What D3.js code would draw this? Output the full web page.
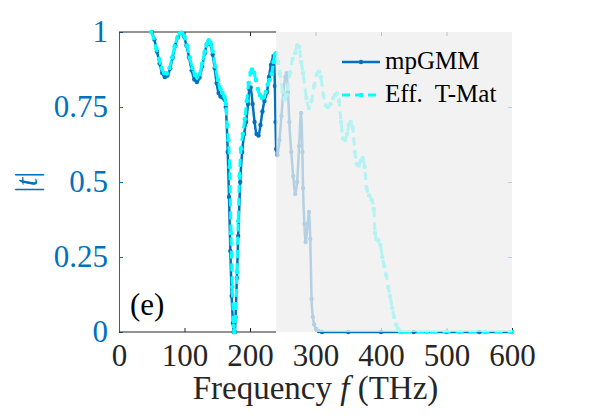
<!DOCTYPE html>
<html>
<head>
<meta charset="utf-8">
<script src="https://cdn.jsdelivr.net/npm/d3@7"></script>
<style>
  body { margin: 0; background: #fff; }
</style>
</head>
<body>
<div id="chart"></div>
<script>
// tick values and labels
const xTicks = [0, 100, 200, 300, 400, 500, 600];
const yTicks = [0, 0.25, 0.5, 0.75, 1];
const yTickLabels = ["0", "0.25", "0.5", "0.75", "1"];

// mpGMM, frequency (THz) and |t|
const fGMM = [50, 54, 58, 62, 66, 70, 74, 78, 82, 86, 90, 95, 99, 103, 107, 111, 115, 119, 123, 127,
  131, 134, 137, 140, 143, 146, 149, 152, 155, 158, 161, 163, 166, 168, 170, 172, 174, 175, 177, 178,
  180, 182, 185, 188, 191, 194, 197, 199, 201, 204, 207, 210, 213, 216, 219, 222, 226, 229, 232, 236,
  238, 239, 240, 242, 245, 248, 251, 254, 256, 258, 260, 263, 266, 269, 272, 275, 278, 280, 281, 283,
  285, 288, 290, 292, 294, 296, 298, 301, 305, 310, 350, 400, 450, 500, 550, 600];
const tGMM = [1.0, 0.975, 0.935, 0.895, 0.863, 0.85, 0.855, 0.878, 0.915, 0.955, 0.983, 0.997, 0.985, 0.955, 0.915, 0.872, 0.842, 0.833, 0.848, 0.885,
  0.93, 0.958, 0.97, 0.958, 0.925, 0.88, 0.83, 0.797, 0.785, 0.782, 0.775, 0.75, 0.6, 0.45, 0.27, 0.12, 0.03, 0.0, 0.0, 0.05,
  0.18, 0.32, 0.5, 0.6, 0.66, 0.7, 0.76, 0.81, 0.815, 0.76, 0.7, 0.66, 0.655, 0.69, 0.735, 0.77, 0.8, 0.85, 0.89, 0.92,
  0.82, 0.7, 0.61, 0.59, 0.64, 0.72, 0.8, 0.85, 0.863, 0.8, 0.7, 0.6, 0.52, 0.46, 0.5, 0.62, 0.73, 0.6, 0.48, 0.36,
  0.3, 0.36, 0.4, 0.31, 0.11, 0.05, 0.025, 0.01, 0.003, 0, 0, 0, 0, 0, 0, 0];

// Eff. T-Mat, frequency (THz) and |t|
const fTMat = [49, 53, 57, 61, 65, 69, 73, 77, 81, 85, 89, 93, 96, 100, 104, 108, 112, 116, 119, 123,
  127, 131, 134, 137, 140, 143, 147, 151, 155, 158, 161, 163, 165, 167, 169, 171, 173, 175, 176, 178,
  180, 182, 184, 186, 189, 192, 195, 198, 201, 203, 206, 209, 212, 215, 218, 221, 224, 227, 230, 233,
  236, 238, 240, 243, 246, 250, 253, 256, 261, 265, 269, 272, 275, 278, 281, 286, 290, 294, 298, 302,
  305, 308, 312, 316, 319, 323, 327, 330, 333, 336, 339, 342, 345, 348, 351, 354, 357, 360, 363, 366,
  369, 372, 375, 378, 382, 386, 389, 391, 393, 396, 399, 402, 405, 408, 411, 414, 417, 420, 423, 426,
  429, 432, 470, 520, 560, 600];
const tTMat = [1.0, 0.98, 0.945, 0.91, 0.88, 0.863, 0.862, 0.88, 0.915, 0.952, 0.98, 0.995, 0.997, 0.985, 0.955, 0.915, 0.88, 0.857, 0.85, 0.86,
  0.895, 0.935, 0.96, 0.972, 0.963, 0.935, 0.885, 0.84, 0.81, 0.797, 0.785, 0.76, 0.69, 0.64, 0.55, 0.33, 0.15, 0.02, 0.0, 0.05,
  0.2, 0.37, 0.52, 0.61, 0.66, 0.71, 0.77, 0.83, 0.865, 0.875, 0.865, 0.84, 0.81, 0.79, 0.78, 0.783, 0.8, 0.825, 0.84, 0.86,
  0.9, 0.925, 0.93, 0.9, 0.86, 0.8, 0.775, 0.79, 0.863, 0.91, 0.93, 0.955, 0.95, 0.9, 0.863, 0.78, 0.747, 0.77, 0.82, 0.86,
  0.867, 0.85, 0.79, 0.755, 0.75, 0.76, 0.78, 0.79, 0.795, 0.77, 0.7, 0.645, 0.64, 0.66, 0.69, 0.70, 0.68, 0.6, 0.56, 0.555,
  0.57, 0.58, 0.55, 0.48, 0.455, 0.44, 0.41, 0.33, 0.31, 0.305, 0.29, 0.25, 0.22, 0.19, 0.15, 0.12, 0.08, 0.05, 0.025, 0.01,
  0.002, 0, 0, 0, 0, 0];

const seriesNames = ["mpGMM", "Eff.  T-Mat"];
const shadeFrom = 240, shadeTo = 600;

// dimensions
let margin = {top: 32, right: 94, bottom: 88, left: 119},
    width = 606 - margin.left - margin.right,
    height = 420 - margin.top - margin.bottom;

const blue = "#0072BD", cyan = "#00FFFF", ink = "#262626";
const serif = "'Liberation Serif', 'Times New Roman', serif";

let svg = d3.select("#chart")
    .append("svg")
    .attr("width", 606)
    .attr("height", 420)
    .attr("font-family", serif);

let g = svg.append("g")
    .attr("transform", "translate(" + margin.left + "," + margin.top + ")");

let x = d3.scaleLinear().domain([0, 600]).range([0, width]);
let y = d3.scaleLinear().domain([0, 1]).range([height, 0]);

// bottom axis, ticks pointing inward
let xAxis = g.append("g")
    .attr("transform", "translate(0," + height + ")")
    .call(d3.axisBottom(x).tickValues(xTicks).tickFormat(d3.format("d"))
        .tickSizeInner(-4).tickSizeOuter(0).tickPadding(12))
    .attr("font-family", serif);
xAxis.select(".domain").remove();
xAxis.selectAll("line").attr("stroke", ink);
xAxis.selectAll("text").attr("fill", ink).style("font-family", serif).style("font-size", "31px");

// top ticks, no labels
let topAxis = g.append("g")
    .call(d3.axisTop(x).tickValues(xTicks.slice(1, -1)).tickFormat("")
        .tickSizeInner(-4).tickSizeOuter(0));
topAxis.select(".domain").remove();
topAxis.selectAll("line").attr("stroke", ink);

// left axis in blue
let yAxis = g.append("g")
    .call(d3.axisLeft(y).tickValues(yTicks).tickFormat(function(d, i) { return yTickLabels[i]; })
        .tickSizeInner(-4).tickSizeOuter(0).tickPadding(11))
    .attr("font-family", serif);
yAxis.select(".domain").attr("stroke", blue);
yAxis.selectAll("line").attr("stroke", blue);
yAxis.selectAll("text").attr("fill", blue).style("font-family", serif).style("font-size", "31px");

// right ticks
let rAxis = g.append("g")
    .attr("transform", "translate(" + width + ",0)")
    .call(d3.axisRight(y).tickValues(yTicks.slice(1, -1)).tickFormat("")
        .tickSizeInner(-4).tickSizeOuter(0));
rAxis.select(".domain").remove();
rAxis.selectAll("line").attr("stroke", blue);

// box edges left of the shaded band
g.append("line").attr("x1", x(0)).attr("x2", x(shadeFrom))
    .attr("y1", y(1)).attr("y2", y(1)).attr("stroke", ink);
g.append("line").attr("x1", x(0)).attr("x2", x(shadeFrom))
    .attr("y1", y(0)).attr("y2", y(0)).attr("stroke", ink);

const gmmData = fGMM.map(function(f, i) { return {f: f, t: tGMM[i]}; });
const tmatData = fTMat.map(function(f, i) { return {f: f, t: tTMat[i]}; });

const line = d3.line()
    .curve(d3.curveMonotoneX)
    .x(function(d) { return x(d.f); })
    .y(function(d) { return y(d.t); });

g.append("path")
    .datum(gmmData)
    .attr("fill", "none")
    .attr("stroke", blue)
    .attr("stroke-width", 2.5)
    .attr("d", line);
g.append("g").selectAll("circle")
    .data(gmmData)
    .join("circle")
    .attr("cx", function(d) { return x(d.f); })
    .attr("cy", function(d) { return y(d.t); })
    .attr("r", 2.2)
    .attr("fill", blue);

g.append("path")
    .datum(tmatData)
    .attr("fill", "none")
    .attr("stroke", cyan)
    .attr("stroke-width", 3)
    .attr("stroke-dasharray", "8,5")
    .attr("d", line);
g.append("g").selectAll("circle")
    .data(tmatData)
    .join("circle")
    .attr("cx", function(d) { return x(d.f); })
    .attr("cy", function(d) { return y(d.t); })
    .attr("r", 2.3)
    .attr("fill", cyan);

// translucent shading over the high-frequency part
g.append("rect")
    .attr("x", x(shadeFrom))
    .attr("y", y(1))
    .attr("width", x(shadeTo) - x(shadeFrom))
    .attr("height", y(0) - y(1))
    .attr("fill", "#eeeeee")
    .attr("opacity", 0.76);

// legend
let legend = svg.append("g");
const legendY = [62, 95];
const legendColor = [blue, cyan];
seriesNames.forEach(function(name, i) {
    legend.append("line")
        .attr("x1", 342).attr("x2", 380)
        .attr("y1", legendY[i]).attr("y2", legendY[i])
        .attr("stroke", legendColor[i])
        .attr("stroke-width", i === 0 ? 2.5 : 3)
        .attr("stroke-dasharray", i === 0 ? null : "8,5");
    legend.append("circle")
        .attr("cx", 361).attr("cy", legendY[i])
        .attr("r", 2.2).attr("fill", legendColor[i]);
    legend.append("text")
        .attr("x", 385).attr("y", legendY[i] + 7)
        .attr("fill", "#000")
        .style("font-family", serif)
        .style("font-size", "25px")
        .style("white-space", "pre")
        .text(name);
});

// panel label
svg.append("text")
    .attr("x", 130).attr("y", 315)
    .attr("fill", "#000")
    .style("font-family", serif)
    .style("font-size", "31px")
    .text("(e)");

// x label
let xl = svg.append("text")
    .attr("x", margin.left + width / 2).attr("y", 399)
    .attr("text-anchor", "middle")
    .attr("fill", ink)
    .style("font-family", serif)
    .style("font-size", "33px")
    .style("white-space", "pre");
xl.append("tspan").text("Frequency ");
xl.append("tspan").style("font-style", "italic").text("f");
xl.append("tspan").text(" (THz)");

// y label
let yl = svg.append("text")
    .attr("transform", "translate(37,182) rotate(-90)")
    .attr("text-anchor", "middle")
    .attr("fill", blue)
    .style("font-family", serif)
    .style("font-size", "31px");
yl.append("tspan").text("|");
yl.append("tspan").style("font-style", "italic").text("t");
yl.append("tspan").text("|");
</script>
</body>
</html>
